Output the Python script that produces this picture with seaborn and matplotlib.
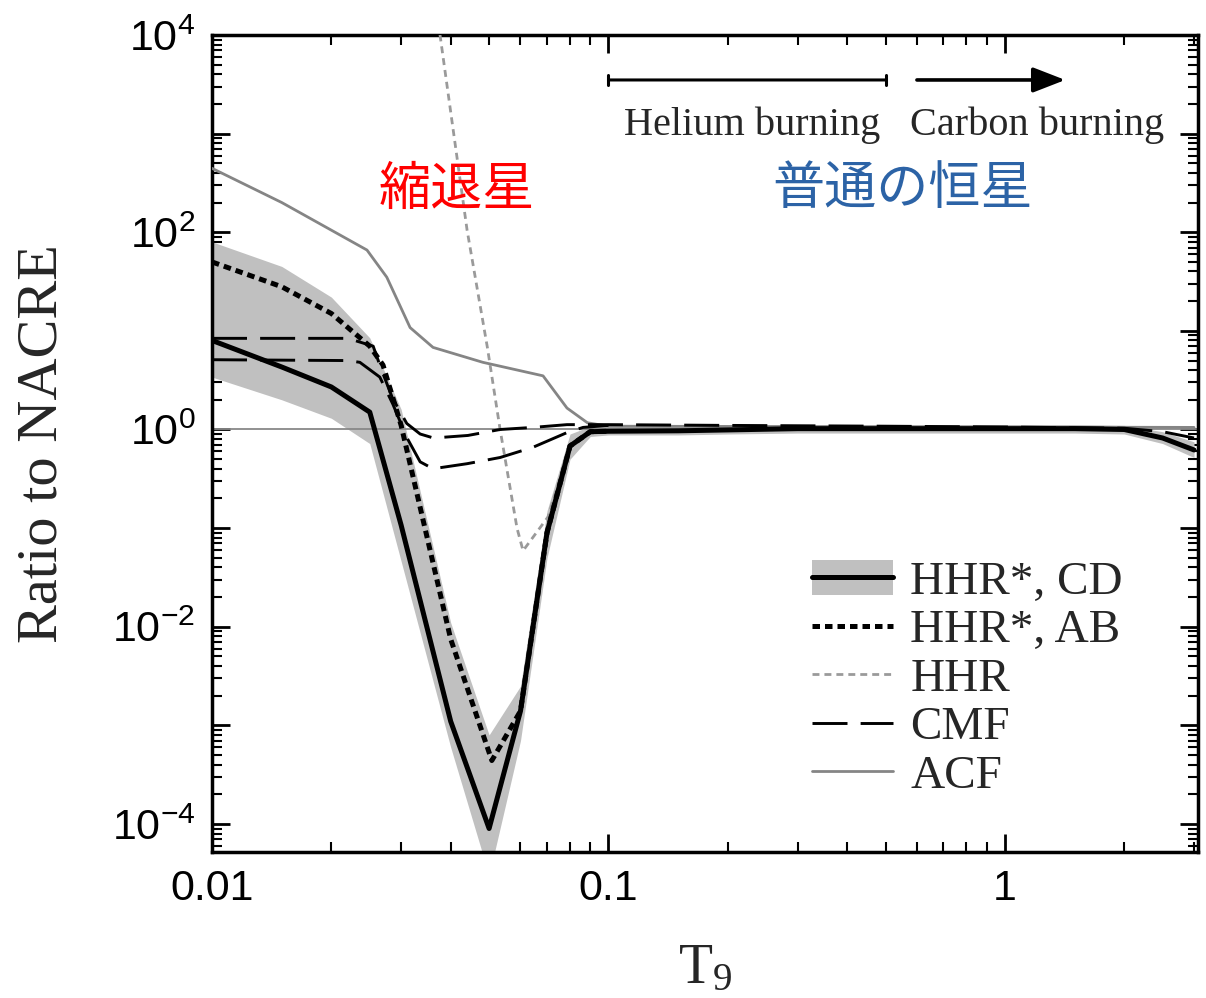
import numpy as np
import matplotlib
matplotlib.use("Agg")
import matplotlib.pyplot as plt
import seaborn as sns
from matplotlib.ticker import LogLocator, FixedLocator, FuncFormatter, NullFormatter
from matplotlib.patches import Patch
from matplotlib.lines import Line2D

# ---------------- data ----------------
x_cd = [0.01, 0.015, 0.02, 0.025, 0.03, 0.04, 0.05, 0.06, 0.07, 0.08, 0.09, 0.1,
        0.15, 0.2, 0.3, 0.5, 0.7, 1.0, 1.5, 2.0, 2.5, 3.0]
y_cd = [8.0, 4.3, 2.7, 1.5, 0.107, 0.0011, 9e-5, 0.0014, 0.09, 0.68, 0.95, 0.96,
        0.97, 0.99, 1.02, 1.02, 1.02, 1.02, 1.02, 1.0, 0.82, 0.62]
band_hi = [80, 45, 22, 8.5, 1.6, 0.011, 8e-4, 0.0025, 0.15, 0.9, 1.08, 1.1,
           1.1, 1.1, 1.12, 1.12, 1.12, 1.12, 1.12, 1.1, 0.95, 0.75]
band_lo = [3.4, 2.0, 1.3, 0.72, 0.046, 6e-4, 3e-5, 7e-4, 0.05, 0.5, 0.85, 0.88,
           0.88, 0.9, 0.92, 0.92, 0.92, 0.92, 0.92, 0.9, 0.72, 0.52]

x_ab = [0.01, 0.015, 0.02, 0.025, 0.027, 0.03, 0.04, 0.0508, 0.06, 0.07, 0.08, 0.09, 0.1]
y_ab = [50, 28, 15, 7.0, 4.5, 1.1, 0.0075, 4.4e-4, 0.0014, 0.09, 0.68, 0.95, 0.96]

x_hhr = [0.035, 0.0376, 0.044, 0.0495, 0.0533, 0.0588, 0.0609, 0.0704, 0.08, 0.09, 0.1]
y_hhr = [8e4, 1e4, 105, 6.8, 1.0, 0.1, 0.059, 0.13, 0.68, 0.95, 0.96]

x_cmf_hi = [0.01, 0.022, 0.0255, 0.0266, 0.0285, 0.031, 0.0335, 0.0362, 0.0442, 0.0533,
            0.0645, 0.0786, 0.1, 0.2, 0.5, 1.0, 2.0, 2.5, 3.0]
y_cmf_hi = [8.4, 8.4, 7.0, 4.3, 2.1, 1.15, 0.9, 0.82, 0.87, 1.0,
            1.05, 1.12, 1.12, 1.1, 1.08, 1.06, 1.03, 0.95, 0.82]
x_cmf_lo = [0.01, 0.022, 0.0236, 0.0265, 0.0286, 0.031, 0.0335, 0.0361, 0.044, 0.0533,
            0.0645, 0.0786, 0.0863, 0.1]
y_cmf_lo = [5.1, 5.0, 4.8, 3.4, 1.8, 0.83, 0.47, 0.40, 0.45, 0.52,
            0.66, 0.93, 1.05, 1.1]

x_acf = [0.01, 0.015, 0.0246, 0.0276, 0.0316, 0.0361, 0.0482, 0.0684, 0.0786, 0.0885, 0.1, 3.0]
y_acf = [445, 200, 66, 35, 10.8, 6.8, 4.8, 3.5, 1.65, 1.17, 1.08, 1.05]

legend_labels = ["HHR*, CD", "HHR*, AB", "HHR", "CMF", "ACF"]
x_tick_values = [0.01, 0.1, 1.0]
x_tick_labels = ["0.01", "0.1", "1"]
y_tick_values = [1e-4, 1e-3, 1e-2, 1e-1, 1e0, 1e1, 1e2, 1e3, 1e4]

# ---------------- style ----------------
sns.set_style("ticks")
plt.rcParams["font.family"] = ["Liberation Sans", "DejaVu Sans"]
plt.rcParams["mathtext.default"] = "regular"
SERIF = ["Liberation Serif", "DejaVu Serif"]
CJK = ["Noto Sans CJK JP", "DejaVu Sans"]

BAND = "#c0c0c0"
ACF_C = "#858585"
HHR_C = "#9a9a9a"

fig = plt.figure(figsize=(12.06, 9.98), dpi=100)
ax = fig.add_axes([212 / 1206, 1 - 852 / 998, 986 / 1206, 817 / 998])
ax.set_xscale("log")
ax.set_yscale("log")

ax.fill_between(x_cd, band_lo, band_hi, color=BAND, lw=0, zorder=1)
ax.axhline(1.0, color="#888888", lw=1.3, zorder=2)

sns.lineplot(x=x_acf, y=y_acf, ax=ax, color=ACF_C, lw=2.0, estimator=None, sort=False, zorder=3)
sns.lineplot(x=x_hhr, y=y_hhr, ax=ax, color=HHR_C, lw=2.0, estimator=None, sort=False,
             linestyle=(0, (2.5, 1.8)), zorder=3)
sns.lineplot(x=x_cmf_hi, y=y_cmf_hi, ax=ax, color="black", lw=2.1, estimator=None, sort=False,
             linestyle=(0, (12, 4.5)), zorder=4)
sns.lineplot(x=x_cmf_lo, y=y_cmf_lo, ax=ax, color="black", lw=2.1, estimator=None, sort=False,
             linestyle=(0, (12, 4.5)), zorder=4)
sns.lineplot(x=x_cd, y=y_cd, ax=ax, color="black", lw=3.6, estimator=None, sort=False, zorder=5)
sns.lineplot(x=x_ab, y=y_ab, ax=ax, color="black", lw=3.6, estimator=None, sort=False,
             linestyle=(0, (1.5, 1.0)), zorder=6)

ax.set_xlim(0.01, 3.07)
ax.set_ylim(5.2e-5, 1e4)

# ticks
ax.yaxis.set_major_locator(FixedLocator(y_tick_values))
ax.yaxis.set_minor_locator(LogLocator(base=10, subs=np.arange(2, 10), numticks=30))


def yfmt(v, pos):
    e = int(round(np.log10(v)))
    if e % 2 == 0:
        return r"$\mathdefault{10^{%d}}$" % e
    return ""


ax.yaxis.set_major_formatter(FuncFormatter(yfmt))
ax.yaxis.set_minor_formatter(NullFormatter())
ax.set_xticks(x_tick_values)
ax.set_xticklabels(x_tick_labels)
ax.xaxis.set_minor_locator(LogLocator(base=10, subs=np.arange(2, 10), numticks=30))
ax.xaxis.set_minor_formatter(NullFormatter())

ax.tick_params(which="both", direction="in", top=True, right=True, colors="black")
ax.tick_params(which="major", length=13, width=2.0, labelsize=31, pad=12)
ax.tick_params(which="minor", length=7, width=1.5)
for s in ax.spines.values():
    s.set_linewidth(2.5)
    s.set_color("black")
    s.set_visible(True)

ax.set_ylabel("Ratio to NACRE", family=SERIF, fontsize=42)
ax.yaxis.set_label_coords(-0.146, 0.5)
ax.set_xlabel(r"T$_9$", family=SERIF, fontsize=40)
ax.xaxis.set_label_coords(0.5, -0.112)

# burning phase markers
ax.annotate("", xy=(0.5, 3500), xytext=(0.1, 3500),
            arrowprops=dict(arrowstyle="|-|, widthA=0.35, widthB=0.35", lw=2.2, color="black",
                            shrinkA=0, shrinkB=0))
ax.annotate("", xy=(1.42, 3500), xytext=(0.6, 3500),
            arrowprops=dict(arrowstyle="-|>, head_length=0.9, head_width=0.35", lw=2.6,
                            color="black", shrinkA=0, shrinkB=0, mutation_scale=22))
ax.text(0.23, 1230, "Helium burning", family=SERIF, fontsize=29, ha="center", va="center")
ax.text(1.205, 1230, "Carbon burning", family=SERIF, fontsize=29, ha="center", va="center")

ax.text(0.0415, 270, "縮退星", family=CJK, fontsize=37.5, color="#ff0000", ha="center", va="center")
ax.text(0.553, 270, "普通の恒星", family=CJK, fontsize=37.5, color="#2c63a6", ha="center", va="center")

# legend
handles = [
    (Patch(facecolor=BAND, edgecolor="none"), Line2D([], [], color="black", lw=3.6)),
    Line2D([], [], color="black", lw=3.6, linestyle=(0, (1.5, 1.0))),
    Line2D([], [], color=HHR_C, lw=2.0, linestyle=(0, (2.5, 1.8))),
    Line2D([], [], color="black", lw=2.1, linestyle=(0, (12, 4.5))),
    Line2D([], [], color=ACF_C, lw=2.0),
]
leg = ax.legend(handles, legend_labels, loc="center left", bbox_to_anchor=(0.6085, 0.2117),
                frameon=False, prop={"family": SERIF, "size": 34}, handlelength=1.72,
                handletextpad=0.36, labelspacing=0.1, borderpad=0, borderaxespad=0,
                handleheight=0.75)

fig.savefig("out.png", dpi=100)
